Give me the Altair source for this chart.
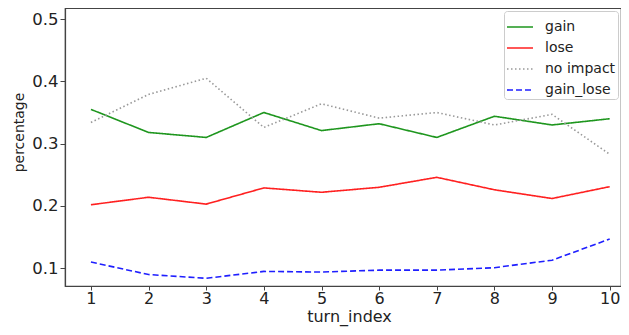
import altair as alt
import pandas as pd

turns = [1, 2, 3, 4, 5, 6, 7, 8, 9, 10]
gain = [0.355, 0.318, 0.310, 0.350, 0.321, 0.332, 0.310, 0.344, 0.330, 0.340]
lose = [0.202, 0.214, 0.203, 0.229, 0.222, 0.230, 0.246, 0.226, 0.212, 0.231]
no_impact = [0.334, 0.379, 0.405, 0.326, 0.364, 0.341, 0.350, 0.330, 0.347, 0.283]
gain_lose = [0.110, 0.090, 0.084, 0.095, 0.094, 0.097, 0.097, 0.101, 0.113, 0.147]

series_names = ["gain", "lose", "no impact", "gain_lose"]
series_colors = ["#1e961e", "#ff2020", "#999999", "#1f1fff"]
series_dash = [[1, 0], [1, 0], [1.5, 2.5], [6, 3]]
y_ticks = [0.1, 0.2, 0.3, 0.4, 0.5]

rows = []
for name, vals in zip(series_names, [gain, lose, no_impact, gain_lose]):
    for t, v in zip(turns, vals):
        rows.append({"turn_index": t, "percentage": v, "series": name})
df = pd.DataFrame(rows)

font = "DejaVu Sans"

chart = alt.Chart(df).mark_line(strokeWidth=1.6).encode(
    x=alt.X("turn_index:Q",
            scale=alt.Scale(domain=[0.55, 10.196], nice=False, zero=False),
            axis=alt.Axis(values=turns, format="d", title="turn_index",
                          labelFontSize=16, labelPadding=0, tickSize=4,
                          titleFontSize=16, titleX=284, titleAlign="center",
                          titleY=35, titleBaseline="alphabetic")),
    y=alt.Y("percentage:Q",
            scale=alt.Scale(domain=[0.0716, 0.5177], nice=False, zero=False),
            axis=alt.Axis(values=y_ticks, format=".1f", title="percentage",
                          titleFontSize=14, titleX=-46, titleY=124,
                          titleBaseline="middle", titleAngle=270, labelPadding=2)),
    color=alt.Color("series:N",
                    scale=alt.Scale(domain=series_names, range=series_colors),
                    sort=series_names,
                    legend=alt.Legend(title=None, orient="none", legendX=439, legendY=3,
                                      symbolType="stroke", symbolSize=676,
                                      symbolStrokeWidth=1.6,
                                      labelFontSize=14, labelFont=font, labelColor="#222",
                                      fillColor="white", strokeColor="#cccccc",
                                      cornerRadius=3, padding=2, rowPadding=-4.5,
                                      labelOffset=11)),
    strokeDash=alt.StrokeDash("series:N",
                              scale=alt.Scale(domain=series_names, range=series_dash),
                              sort=series_names, legend=None),
    detail="series:N",
).properties(
    width=556, height=278,
    autosize=alt.AutoSizeParams(type="none"),
    padding={"left": 57, "top": 0, "right": 0, "bottom": 41},
).configure_view(
    stroke="#444444", strokeWidth=1.2
).configure_axis(
    labelFont=font, titleFont=font, labelFontSize=16.5, titleFontSize=16,
    titleFontWeight="normal", labelColor="#222", titleColor="#222",
    domainColor="#444444", tickColor="#444444", tickSize=5, grid=False,
    labelPadding=3, domainWidth=1.2,
)

chart.save("out.html", embed_options={"renderer": "svg", "actions": False})
